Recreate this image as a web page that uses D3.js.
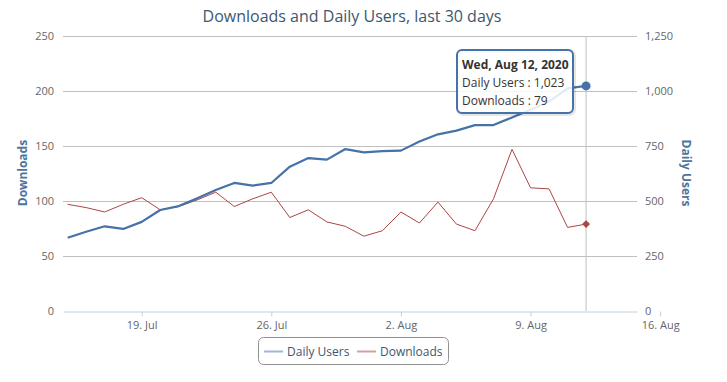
<!DOCTYPE html>
<html><head><meta charset="utf-8">
<script src="https://cdn.jsdelivr.net/npm/d3@7"></script>
<style>
body{margin:0;background:#fff;}
svg{font-family:"Open Sans",sans-serif;}
</style></head>
<body>
<svg id="chart" width="727" height="382"></svg>
<script>
// ---- data ----
const dates = ["2020-07-15","2020-07-16","2020-07-17","2020-07-18","2020-07-19","2020-07-20","2020-07-21",
"2020-07-22","2020-07-23","2020-07-24","2020-07-25","2020-07-26","2020-07-27","2020-07-28","2020-07-29",
"2020-07-30","2020-07-31","2020-08-01","2020-08-02","2020-08-03","2020-08-04","2020-08-05","2020-08-06",
"2020-08-07","2020-08-08","2020-08-09","2020-08-10","2020-08-11","2020-08-12"];
const dailyUsers = [333,360,385,373,405,459,477,512,550,582,570,582,656,695,688,736,721,727,729,770,803,820,845,845,880,915,952,1012,1023];
const downloads = [97,94,90,97,103,92,95,101,108,95,102,108,85,92,81,77,68,73,90,80,99,79,73,102,147,112,111,76,79];
const leftTicks = [0,50,100,150,200,250];
const rightTicks = [0,250,500,750,1000,1250];
const xTicks = ["2020-07-19","2020-07-26","2020-08-02","2020-08-09","2020-08-16"];

const parse = d3.utcParse("%Y-%m-%d");
const svg = d3.select("#chart");
const L = 63, R = 637, T = 36, B = 311;

const x = d3.scaleUtc()
  .domain([Date.UTC(2020,6,14,18), Date.UTC(2020,7,14,18)])
  .range([L, R]);
const yL = d3.scaleLinear().domain([0,250]).range([B,T]);
const yR = d3.scaleLinear().domain([0,1250]).range([B,T]);

// title
svg.append("text").attr("x",352).attr("y",22).attr("text-anchor","middle")
  .attr("font-size",16).attr("fill","#3e576f").text("Downloads and Daily Users, last 30 days");

// grid
svg.append("g").selectAll("line").data(leftTicks.filter(d=>d>0)).join("line")
  .attr("x1",L).attr("x2",R).attr("y1",d=>yL(d)+0.5).attr("y2",d=>yL(d)+0.5)
  .attr("stroke","#c0c0c0").attr("stroke-width",1);

// left axis labels
svg.append("g").selectAll("text").data(leftTicks).join("text")
  .attr("x",54).attr("y",d=>yL(d)+4).attr("text-anchor","end")
  .attr("font-size",11).attr("fill","#666").text(d=>d);
// right axis labels
const fmt = d3.format(",");
svg.append("g").selectAll("text").data(rightTicks).join("text")
  .attr("x",645).attr("y",d=>yR(d)+4).attr("text-anchor","start")
  .attr("font-size",11).attr("fill","#666").text(d=>fmt(d));

// axis titles
svg.append("text").attr("transform","translate(27,173) rotate(-90)")
  .attr("text-anchor","middle").attr("font-size",12).attr("font-weight","bold")
  .attr("fill","#4d759e").text("Downloads");
svg.append("text").attr("transform","translate(682,173) rotate(90)")
  .attr("text-anchor","middle").attr("font-size",12).attr("font-weight","bold")
  .attr("fill","#4d759e").text("Daily Users");

// x axis
const xAxis = d3.axisBottom(x).tickValues(xTicks.map(parse))
  .tickFormat(d3.utcFormat("%-d. %b")).tickSize(5).tickSizeOuter(0);
const gx = svg.append("g").attr("transform",`translate(0,${B+0.5})`).call(xAxis);
gx.select(".domain").attr("stroke","#c0d0e0");
gx.selectAll(".tick line").attr("stroke","#c0d0e0");
gx.selectAll(".tick text").attr("fill","#666").attr("font-size",11)
  .attr("font-family","Open Sans, sans-serif").attr("dy","0.9em");

// crosshair
const last = parse(dates[dates.length-1]);
svg.append("line").attr("x1",x(last)).attr("x2",x(last)).attr("y1",T).attr("y2",B)
  .attr("stroke","#c0c0c0").attr("stroke-width",1);

// lines
const pts = dates.map((d,i)=>({d:parse(d),u:dailyUsers[i],dl:downloads[i]}));
svg.append("path").datum(pts)
  .attr("d",d3.line().x(p=>x(p.d)).y(p=>yL(p.dl)))
  .attr("fill","none").attr("stroke","#AA4643").attr("stroke-width",1);
svg.append("path").datum(pts)
  .attr("d",d3.line().x(p=>x(p.d)).y(p=>yR(p.u)))
  .attr("fill","none").attr("stroke","#4572A7").attr("stroke-width",2.2).attr("stroke-linejoin","round");

// hover markers
const lp = pts[pts.length-1];
svg.append("circle").attr("cx",x(lp.d)).attr("cy",yR(lp.u)).attr("r",4.5).attr("fill","#4572A7");
svg.append("path").attr("transform",`translate(${x(lp.d)},${yL(lp.dl)})`)
  .attr("d",d3.symbol(d3.symbolDiamond2,40)()).attr("fill","#AA4643");

// tooltip
const tx = 457, ty = 50, tw = 116, th = 63;
svg.append("rect").attr("x",tx+1).attr("y",ty+1).attr("width",tw).attr("height",th).attr("rx",5)
  .attr("fill","none").attr("stroke","#000").attr("stroke-opacity",0.1).attr("stroke-width",4);
svg.append("rect").attr("x",tx).attr("y",ty).attr("width",tw).attr("height",th).attr("rx",5)
  .attr("fill","#fff").attr("fill-opacity",0.85).attr("stroke","#4572A7").attr("stroke-width",2);
const tt = svg.append("text").attr("font-size",12).attr("fill","#333");
tt.append("tspan").attr("x",tx+5).attr("y",ty+19).attr("font-weight","bold")
  .text(d3.utcFormat("%a, %b %-d, %Y")(lp.d));
tt.append("tspan").attr("x",tx+5).attr("y",ty+37).text("Daily Users : " + fmt(lp.u));
tt.append("tspan").attr("x",tx+5).attr("y",ty+55).text("Downloads : " + lp.dl);

// legend
const lg = svg.append("g");
lg.append("rect").attr("x",258.5).attr("y",337.5).attr("width",190).attr("height",27).attr("rx",5)
  .attr("fill","#fff").attr("stroke","#909090");
const items = [{name:"Daily Users",color:"#9db5d6",x:264},{name:"Downloads",color:"#d9a0a0",x:357}];
items.forEach(it=>{
  lg.append("line").attr("x1",it.x).attr("x2",it.x+19).attr("y1",351.5).attr("y2",351.5)
    .attr("stroke",it.color).attr("stroke-width",2);
  lg.append("text").attr("x",it.x+23).attr("y",355.5).attr("font-size",12)
    .attr("fill","#3e576f").text(it.name);
});
</script>
</body></html>
